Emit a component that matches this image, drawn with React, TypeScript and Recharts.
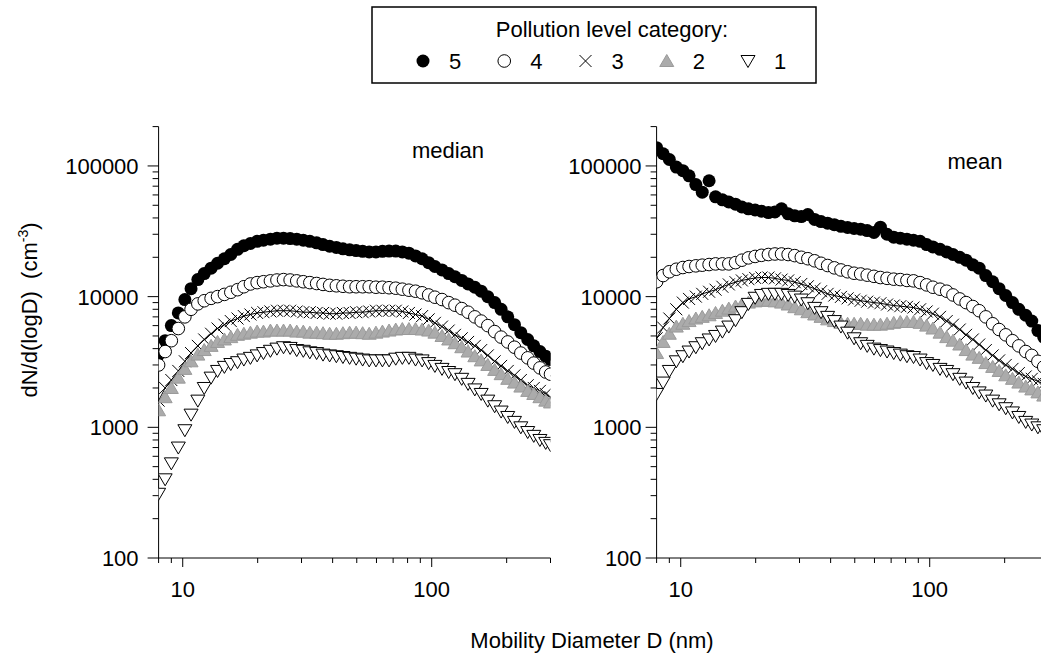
import React from "react"
import { ScatterChart, Scatter, XAxis, YAxis } from "recharts"

// mobility diameter (nm), shared by every series
const diameters = [
  8.0, 8.5, 9.0, 9.6, 10.2, 10.8, 11.5, 12.2, 13.0, 13.8,
  14.7, 15.6, 16.6, 17.6, 18.7, 19.9, 21.1, 22.5, 23.9, 25.4,
  27.0, 28.7, 30.5, 32.4, 34.5, 36.6, 38.9, 41.4, 44.0, 46.8,
  49.7, 52.8, 56.1, 59.7, 63.4, 67.4, 71.7, 76.2, 81.0, 86.1,
  91.5, 97.2, 103, 110, 117, 124, 132, 140, 149, 158,
  168, 179, 190, 202, 215, 228, 243, 257, 272, 287,
  300,
]

// median panel
const median5 = [
  3600, 4600, 6000, 7500, 9500, 11500, 13500, 15000, 16500, 18000,
  19500, 21000, 23000, 24500, 25500, 26500, 27000, 27500, 28000, 28000,
  27800, 27500, 27000, 26500, 25800, 25000, 24300, 23800, 23200, 22800,
  22500, 22200, 22000, 22000, 22200, 22300, 22300, 22000, 21500, 20500,
  19500, 18200, 17000, 16000, 15000, 14200, 13300, 12500, 11800, 11000,
  10000, 9000, 8000, 7000, 6100, 5300, 4700, 4200, 3800, 3500,
  3300,
]
const median4 = [
  3000, 3800, 4600, 5700, 7000, 8000, 8800, 9300, 9700, 10000,
  10400, 10800, 11300, 11900, 12500, 12800, 13000, 13200, 13400, 13500,
  13400, 13200, 13000, 12800, 12600, 12400, 12200, 12100, 12000, 11900,
  11900, 11900, 11900, 11800, 11800, 11700, 11600, 11400, 11200, 11000,
  10700, 10300, 9900, 9500, 9000, 8600, 8100, 7600, 7000, 6500,
  6000, 5400, 4900, 4500, 4100, 3700, 3400, 3100, 2850, 2650,
  2550,
]
const median3 = [
  1600, 2000, 2300, 2700, 3200, 3700, 4200, 4700, 5200, 5700,
  6100, 6500, 6800, 7100, 7300, 7500, 7600, 7700, 7800, 7800,
  7800, 7700, 7600, 7600, 7500, 7500, 7400, 7400, 7500, 7500,
  7600, 7600, 7700, 7800, 7800, 7800, 7800, 7700, 7500, 7300,
  7100, 6700, 6300, 5900, 5500, 5100, 4800, 4500, 4200, 3900,
  3550, 3200, 2950, 2700, 2500, 2300, 2100, 2000, 1900, 1800,
  1700,
]
const median2 = [
  1350, 1700, 2000, 2400, 2800, 3200, 3600, 3900, 4200, 4500,
  4700, 4900, 5100, 5200, 5300, 5400, 5400, 5500, 5500, 5500,
  5500, 5400, 5400, 5300, 5300, 5250, 5200, 5200, 5250, 5300,
  5300, 5250, 5200, 5300, 5400, 5500, 5600, 5650, 5650, 5650,
  5600, 5500, 5300, 5000, 4700, 4400, 4100, 3800, 3500, 3250,
  3000, 2750, 2550, 2350, 2200, 2050, 1900, 1800, 1700, 1600,
  1550,
]
const median1 = [
  310, 400, 530, 700, 950, 1250, 1600, 2000, 2400, 2700,
  2900, 3050, 3150, 3300, 3400, 3550, 3700, 3850, 4000, 4100,
  4050, 3900, 3850, 3750, 3700, 3600, 3550, 3500, 3450, 3400,
  3350, 3300, 3250, 3250, 3250, 3250, 3350, 3400, 3400, 3300,
  3250, 3100, 2950, 2800, 2650, 2550, 2350, 2150, 1950, 1800,
  1600, 1450, 1320, 1200, 1100, 1000, 920, 860, 800, 760,
  730,
]

// mean panel
const mean5 = [
  138000, 124000, 112000, 98000, 92000, 84000, 72000, 63000, 77000, 58000,
  55000, 53000, 51000, 48500, 47000, 46000, 45000, 44000, 44500, 47000,
  43000, 41500, 41000, 42500, 39000, 37500, 36500, 35500, 34500, 33800,
  33200, 32800, 32000, 31000, 34000, 30000, 28500, 28000, 27500, 27000,
  26500, 25000, 24000, 23000, 22000, 21000, 20000, 19000, 17500, 16500,
  14500, 13000, 11500, 10200, 9000, 8000, 7200, 6500, 5500, 4900,
  4400,
]
const mean4 = [
  13000, 14500, 15500, 16200, 16700, 17000, 17200, 17400, 17600, 17800,
  17800, 17800, 18200, 19000, 19800, 20300, 20700, 21000, 21200, 21200,
  21000, 20600, 20000, 19500, 18800, 18000, 17300, 16600, 16000, 15500,
  15100, 14900, 14600, 14300, 14000, 13800, 13600, 13500, 13300, 13200,
  12800, 12300, 11800, 11400, 11000, 10300, 9600, 9000, 8400, 7800,
  7000, 6200, 5600, 5100, 4600, 4200, 3800, 3550, 3200, 2900,
  2700,
]
const mean3 = [
  4800, 5800, 6800, 8000, 9000, 9600, 10000, 10500, 10900, 11300,
  11900, 12400, 12900, 13300, 13600, 13900, 14000, 14000, 13800, 13500,
  13300, 12900, 12500, 12000, 11500, 11000, 10500, 10200, 9950, 9700,
  9500, 9300, 9150, 9000, 8900, 8700, 8550, 8450, 8350, 8250,
  8000, 7700, 7400, 7000, 6500, 6100, 5600, 5100, 4700, 4300,
  3900, 3550, 3250, 3000, 2800, 2600, 2450, 2350, 2250, 2150,
  2050,
]
const mean2 = [
  3700, 4500, 5200, 5900, 6200, 6500, 6800, 7000, 7200, 7500,
  7800, 8100, 8400, 8700, 9000, 9200, 9300, 9300, 9200, 9000,
  8700, 8300, 8000, 7600, 7300, 7000, 6700, 6500, 6300, 6200,
  6200, 6200, 6100, 6100, 6100, 6200, 6300, 6400, 6400, 6400,
  6300, 6000, 5700, 5300, 4900, 4600, 4300, 3900, 3600, 3400,
  3100, 2900, 2700, 2500, 2350, 2200, 2050, 1950, 1850, 1750,
  1650,
]
const mean1 = [
  1800, 2200, 2700, 3200, 3500, 3800, 4100, 4400, 4700, 5000,
  5400, 5900, 6600, 7600, 8800, 9800, 10300, 10500, 10500, 10500,
  10300, 10000, 9500, 8900, 8200, 7600, 7000, 6500, 5900, 5300,
  4800, 4400, 4200, 4000, 3900, 3800, 3700, 3600, 3500, 3450,
  3300, 3100, 3000, 2800, 2700, 2550, 2350, 2200, 2000, 1850,
  1750, 1600, 1500, 1400, 1300, 1200, 1100, 1050, 1000, 950,
  900,
]

const categories = ["5", "4", "3", "2", "1"]
const markerKinds = ["filled", "open", "cross", "grayUp", "down"]
const panelTitles = ["median", "mean"]

const xTicks = [8, 9, 10, 20, 30, 40, 50, 60, 70, 80, 90, 100, 200, 300]
const xLabelTicks = [10, 100]
const yTicks = [
  100, 200, 300, 400, 500, 600, 700, 800, 900,
  1000, 2000, 3000, 4000, 5000, 6000, 7000, 8000, 9000,
  10000, 20000, 30000, 40000, 50000, 60000, 70000, 80000, 90000,
  100000, 200000,
]
const yLabelTicks = [100, 1000, 10000, 100000]

const FONT = "'Liberation Sans', Arial, sans-serif"
const H = 654

const rows = (vals: number[]) => diameters.map((d, i) => ({ d, v: vals[i] }))

const Marker = ({ kind, cx, cy, s = 1 }: { kind: string; cx: number; cy: number; s?: number }) => {
  if (kind === "filled") return <circle cx={cx} cy={cy} r={6.5 * s} fill="#000" />
  if (kind === "open")
    return <circle cx={cx} cy={cy} r={6.3 * s} fill="#fff" stroke="#000" strokeWidth={1} />
  if (kind === "cross") {
    const a = 6 * s
    return (
      <g stroke="#000" strokeWidth={1}>
        <line x1={cx - a} y1={cy - a} x2={cx + a} y2={cy + a} />
        <line x1={cx - a} y1={cy + a} x2={cx + a} y2={cy - a} />
      </g>
    )
  }
  if (kind === "grayUp")
    return (
      <polygon
        points={`${cx},${cy - 6.5 * s} ${cx + 7 * s},${cy + 5.5 * s} ${cx - 7 * s},${cy + 5.5 * s}`}
        fill="#ababab"
        stroke="#9a9a9a"
        strokeWidth={1}
      />
    )
  return (
    <polygon
      points={`${cx - 7 * s},${cy - 5.5 * s} ${cx + 7 * s},${cy - 5.5 * s} ${cx},${cy + 6.5 * s}`}
      fill="#fff"
      stroke="#000"
      strokeWidth={1}
    />
  )
}

const XTick = (props: any) => {
  const { x, y, payload } = props
  const major = xLabelTicks.includes(payload.value)
  return (
    <g>
      <line x1={x} x2={x} y1={y} y2={y + (major ? 9 : 5)} stroke="#000" />
      {major && (
        <text x={x} y={y + 39} textAnchor="middle" fontFamily={FONT} fontSize={22} fill="#000">
          {payload.value}
        </text>
      )}
    </g>
  )
}

const YTick = (props: any) => {
  const { x, y, payload, gap } = props
  const major = yLabelTicks.includes(payload.value)
  return (
    <g>
      <line x1={x - (major ? 11 : 6)} x2={x} y1={y} y2={y} stroke="#000" />
      {major && (
        <text x={x - gap} y={y} dy="0.36em" textAnchor="end" fontFamily={FONT} fontSize={22} fill="#000">
          {payload.value}
        </text>
      )}
    </g>
  )
}

const Panel = ({
  series,
  left,
  width,
  marginRight,
  yWidth,
  gap,
}: {
  series: number[][]
  left: number
  width: number
  marginRight: number
  yWidth: number
  gap: number
}) => (
  <div style={{ position: "absolute", left, top: 0 }}>
    <ScatterChart width={width} height={H} margin={{ top: 126.6, right: marginRight, bottom: 56, left: 0 }}>
      <XAxis
        type="number"
        dataKey="d"
        scale="log"
        domain={[8, 300]}
        allowDataOverflow
        ticks={xTicks}
        interval={0}
        tickSize={0}
        tickMargin={0}
        height={40}
        axisLine={{ stroke: "#000" }}
        tickLine={false}
        tick={(p: any) => <XTick {...p} />}
      />
      <YAxis
        type="number"
        dataKey="v"
        scale="log"
        domain={[100, 200000]}
        allowDataOverflow
        ticks={yTicks}
        interval={0}
        tickSize={0}
        tickMargin={0}
        width={yWidth}
        axisLine={{ stroke: "#000" }}
        tickLine={false}
        tick={(p: any) => <YTick {...p} gap={gap} />}
      />
      {series.map((vals, i) => (
        <Scatter
          key={categories[i]}
          name={categories[i]}
          data={rows(vals)}
          isAnimationActive={false}
          line={markerKinds[i] === "cross" ? { stroke: "#000", strokeWidth: 1 } : false}
          lineType="joint"
          shape={(p: any) => <Marker kind={markerKinds[i]} cx={p.cx} cy={p.cy} />}
        />
      ))}
    </ScatterChart>
  </div>
)

export default function App() {
  return (
    <div
      style={{
        position: "absolute",
        left: 0,
        top: 0,
        width: 1041,
        height: H,
        overflow: "hidden",
        background: "#fff",
      }}
    >
      <Panel
        series={[median5, median4, median3, median2, median1]}
        left={0}
        width={600}
        marginRight={49.5}
        yWidth={158.6}
        gap={20}
      />
      <Panel
        series={[mean5, mean4, mean3, mean2, mean1]}
        left={500}
        width={560}
        marginRight={11.5}
        yWidth={156.6}
        gap={15}
      />
      <svg
        width={1041}
        height={H}
        style={{ position: "absolute", left: 0, top: 0, pointerEvents: "none" }}
        fontFamily={FONT}
        fill="#000"
      >
        <text x={448} y={158} textAnchor="middle" fontSize={22}>
          {panelTitles[0]}
        </text>
        <text x={975} y={169} textAnchor="middle" fontSize={22}>
          {panelTitles[1]}
        </text>
        <text x={592} y={648} textAnchor="middle" fontSize={22}>
          Mobility Diameter D (nm)
        </text>
        <text
          transform="translate(37,310) rotate(-90)"
          textAnchor="middle"
          fontSize={22}
          style={{ whiteSpace: "pre" }}
        >
          {"dN/d(logD)  (cm"}
          <tspan fontSize={14} dy={-9}>
            -3
          </tspan>
          <tspan dy={9}>)</tspan>
        </text>
        <rect x={372} y={7} width={444} height={76} fill="#fff" stroke="#000" strokeWidth={1.5} />
        <text x={612} y={37} textAnchor="middle" fontSize={22}>
          Pollution level category:
        </text>
        {categories.map((c, i) => {
          const mx = 423 + i * 81.25
          return (
            <g key={c}>
              <Marker kind={markerKinds[i]} cx={mx} cy={61} s={1} />
              <text x={mx + 32} y={69} textAnchor="middle" fontSize={22}>
                {c}
              </text>
            </g>
          )
        })}
      </svg>
    </div>
  )
}
